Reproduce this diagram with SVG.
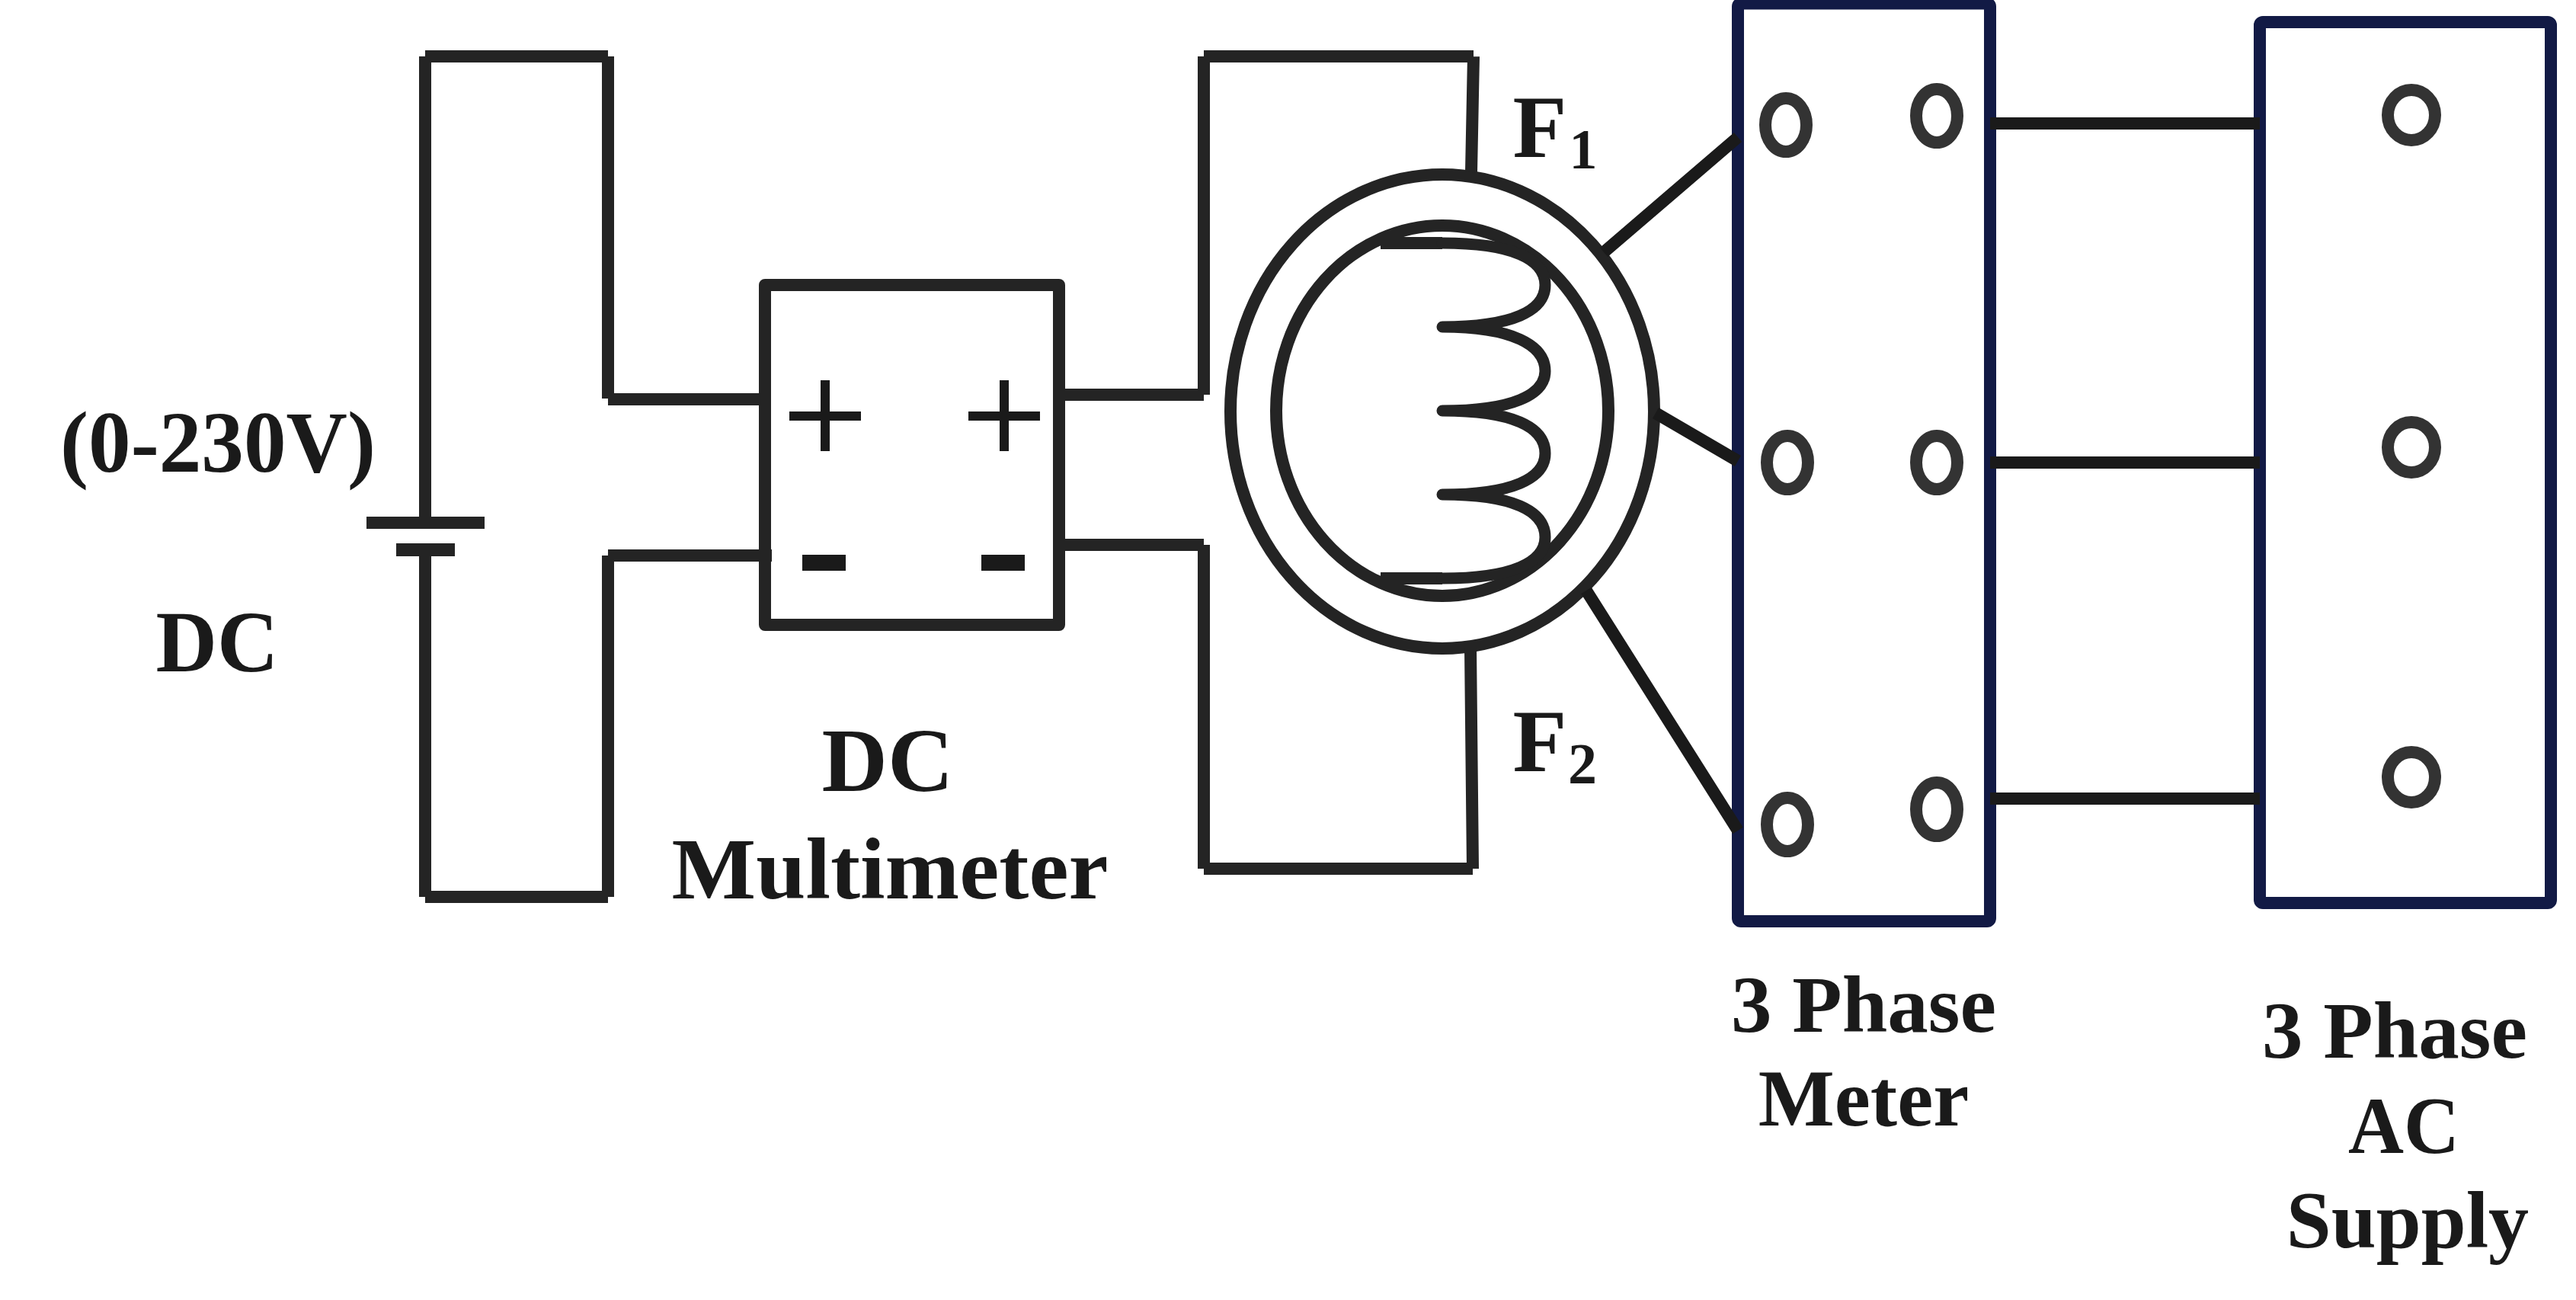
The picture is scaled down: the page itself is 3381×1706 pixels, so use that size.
<svg xmlns="http://www.w3.org/2000/svg" width="3381" height="1706" viewBox="0 0 3381 1706">
<style>
.w{fill:none;stroke:#242424;stroke-width:16}
.r{fill:none;stroke:#242424;stroke-width:15;stroke-linecap:round;stroke-linejoin:round}
.b{fill:none;stroke:#242424;stroke-width:16;stroke-linejoin:round}
.k{fill:none;stroke:#1a1a1a;stroke-width:16}
.p{fill:none;stroke:#1a1a1a;stroke-width:12}
.m{fill:none;stroke:#1a1a1a;stroke-width:21}
.n{fill:none;stroke:#121a45;stroke-width:16;stroke-linejoin:round}
.o{fill:none;stroke:#333;stroke-width:16}
.t{font-family:"Liberation Serif","Times New Roman",serif;font-weight:bold;fill:#1a1a1a;font-size:106px;text-anchor:middle}
.l{font-size:114px}
</style>
<rect width="3381" height="1706" fill="#fff"/>
<g id="battery">
<rect x="481" y="678" width="155" height="16" fill="#242424"/>
<rect x="520" y="713" width="77" height="17" fill="#242424"/>
<text class="t l" x="286" y="619" textLength="414" lengthAdjust="spacingAndGlyphs">(0-230V)</text>
<text class="t l" x="285" y="881" textLength="161" lengthAdjust="spacingAndGlyphs">DC</text>
</g>
<g id="multimeter">
<rect class="b" x="1004" y="374" width="386" height="446"/>
<path class="p" d="M1083 499V592M1036 546H1130M1318 499V592M1271 546H1365"/>
<path class="m" d="M1053 738.500H1110M1288 738.500H1345"/>
<text class="t" style="font-size:118px" x="1165" y="1038" textLength="173" lengthAdjust="spacingAndGlyphs">DC</text>
<text class="t l" x="1168" y="1179" textLength="573" lengthAdjust="spacingAndGlyphs">Multimeter</text>
</g>
<g id="machine">
<ellipse class="w" cx="1893" cy="540" rx="278" ry="311"/>
<ellipse class="w" cx="1893" cy="539" rx="218" ry="243"/>
<path class="w" d="M1812 319H1893M1812 759H1893"/>
<path class="r" d="M1893 319C1985 319 2028 340 2028 374C2028 408 1985 429 1893 429C1985 429 2028 453 2028 487C2028 518 1985 539 1893 539C1985 539 2028 560 2028 595C2028 628 1985 649 1893 649C1985 649 2028 670 2028 705C2028 738 1985 759 1893 759"/>
<text class="t" style="font-size:116px" x="2021" y="206">F</text>
<text class="t" style="font-size:74px" x="2078" y="221">1</text>
<text class="t" style="font-size:116px" x="2021" y="1012">F</text>
<text class="t" style="font-size:76px" x="2077" y="1028">2</text>
</g>
<g id="meter">
<rect class="n" x="2281" y="4.500" width="331" height="1204.500" rx="4"/>
<ellipse class="o" cx="2344" cy="164" rx="27" ry="35"/>
<ellipse class="o" cx="2542" cy="152" rx="27" ry="35"/>
<ellipse class="o" cx="2346" cy="607" rx="27" ry="35"/>
<ellipse class="o" cx="2542" cy="607" rx="27" ry="35"/>
<ellipse class="o" cx="2346" cy="1082" rx="27" ry="35"/>
<ellipse class="o" cx="2542" cy="1062" rx="27" ry="35"/>
<text class="t" x="2446" y="1354" textLength="348" lengthAdjust="spacingAndGlyphs">3 Phase</text>
<text class="t" x="2446" y="1477">Meter</text>
</g>
<g id="supply">
<rect class="n" x="2966" y="29" width="382" height="1156" rx="4"/>
<ellipse class="o" cx="3165" cy="151" rx="31" ry="33"/>
<ellipse class="o" cx="3165" cy="587" rx="31" ry="33"/>
<ellipse class="o" cx="3165" cy="1020" rx="31" ry="33"/>
<text class="t" x="3143" y="1388" textLength="348" lengthAdjust="spacingAndGlyphs">3 Phase</text>
<text class="t" x="3155" y="1513" textLength="146" lengthAdjust="spacingAndGlyphs">AC</text>
<text class="t" x="3160" y="1637">Supply</text>
</g>
<g id="connectors">
<path class="w" d="M558 74H798M558 74V678M558 730V1177M558 1177H798M798 74V523M798 729V1177"/>
<path class="w" d="M798 524H1004M798 729H1013"/>
<path class="w" d="M1390 518H1580M1580 518V74M1580 74H1934M1934 74L1931 226"/>
<path class="w" d="M1390 715H1580M1580 715V1140M1580 1140H1933M1933 1140L1930 850"/>
<path class="k" d="M2105 331L2281 180M2173 542L2281 605M2082 775L2281 1090"/>
<path class="k" d="M2612 162H2966M2612 607H2966M2612 1048H2966"/>
</g>
</svg>
